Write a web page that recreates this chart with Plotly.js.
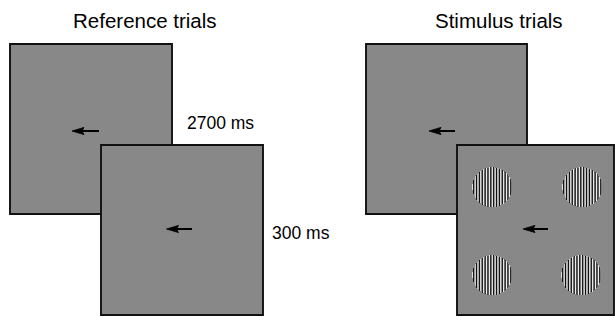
<!DOCTYPE html>
<html><head><meta charset="utf-8">
<script src="https://cdn.plot.ly/plotly-3.0.1.min.js"></script>
<style>html,body{margin:0;padding:0;background:#fff;} #chart{width:615px;height:316px;}</style>
</head><body><div id="chart"></div>
<script>
// ---- content ----
const trialTypes = ['Reference trials', 'Stimulus trials'];
const durationLabels = ['2700 ms', '300 ms'];
const gratingPatches = ['upper-left', 'upper-right', 'lower-left', 'lower-right'];
const gratingCycles = [14, 14, 14, 14];

// ---- layout geometry (pixel units on a 615 x 316 canvas) ----
const panels = [
  {x0: 10,  y0: 44,  x1: 172, y1: 214},
  {x0: 101, y0: 145, x1: 263, y1: 315},
  {x0: 366, y0: 44,  x1: 527, y1: 214},
  {x0: 457, y0: 145, x1: 614, y1: 315}
];
const arrows = [
  {tip: 72,    tail: 99,  y: 131},
  {tip: 166.5, tail: 192, y: 229},
  {tip: 429,   tail: 455, y: 131},
  {tip: 523,   tail: 548, y: 229}
];
const patchCenters = [[492, 187], [582, 187], [492, 275], [581, 275]];
const patchRadius = 20;
const titlePos = [[145, 20], [498.5, 20]];
const durationPos = [[220, 123], [301, 233]];

const shapes = [];
panels.forEach(p => shapes.push({
  type: 'rect', xref: 'x', yref: 'y', x0: p.x0, x1: p.x1, y0: p.y0, y1: p.y1,
  fillcolor: '#888888', line: {color: '#111111', width: 1.9}, layer: 'below'
}));
arrows.forEach(a => {
  const hl = 12, hh = 3.6, notch = 10;
  shapes.push({type: 'line', xref: 'x', yref: 'y', x0: a.tip + notch, x1: a.tail, y0: a.y, y1: a.y,
    line: {color: '#000', width: 2}, layer: 'above'});
  shapes.push({type: 'path', xref: 'x', yref: 'y',
    path: `M${a.tip},${a.y} L${a.tip + hl},${a.y - hh} L${a.tip + notch},${a.y} L${a.tip + hl},${a.y + hh} Z`,
    fillcolor: '#000', line: {color: '#000', width: 0.8}, layer: 'above'});
});

const traces = [];
const step = 0.5;
gratingPatches.forEach((name, k) => {
  const [cx, cy] = patchCenters[k];
  const period = 2 * patchRadius / gratingCycles[k];
  const n = Math.round(2 * patchRadius / step);
  const xs = [], ys = [];
  for (let i = 0; i < n; i++) { xs.push(cx - patchRadius + (i + 0.5) * step); ys.push(cy - patchRadius + (i + 0.5) * step); }
  const z = ys.map(yv => xs.map(xv => {
    const d = Math.hypot(xv - cx, yv - cy);
    return d <= patchRadius ? Math.cos(2 * Math.PI * (xv - cx) / period) : null;
  }));
  traces.push({type: 'heatmap', name, x: xs, y: ys, z, zmin: -1.15, zmax: 1.15,
    colorscale: [[0, '#000000'], [1, '#ffffff']], showscale: false, hoverinfo: 'skip', zsmooth: false});
});

const font = "'Liberation Sans', Arial, Helvetica, sans-serif";
const annotations = [];
trialTypes.forEach((t, i) => annotations.push({
  text: t, x: titlePos[i][0], y: titlePos[i][1], xref: 'x', yref: 'y', showarrow: false,
  xanchor: 'center', yanchor: 'middle', font: {family: font, size: 20.5, color: '#000'}
}));
durationLabels.forEach((t, i) => annotations.push({
  text: t, x: durationPos[i][0], y: durationPos[i][1], xref: 'x', yref: 'y', showarrow: false,
  xanchor: 'center', yanchor: 'middle', font: {family: font, size: 17.5, color: '#000'}
}));

const layout = {
  width: 615, height: 316, margin: {l: 0, r: 0, t: 0, b: 0, pad: 0},
  paper_bgcolor: '#ffffff', plot_bgcolor: '#ffffff', showlegend: false,
  xaxis: {range: [0, 615], visible: false, fixedrange: true},
  yaxis: {range: [316, 0], visible: false, fixedrange: true},
  shapes, annotations
};
Plotly.newPlot('chart', traces, layout, {staticPlot: true, displayModeBar: false});
</script>
</body></html>
